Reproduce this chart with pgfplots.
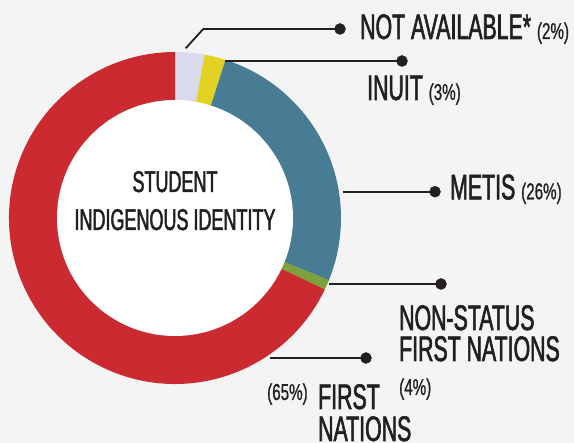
\documentclass[border=0pt]{standalone}
\usepackage{fontspec}
\setmainfont{Liberation Sans}
\newfontfamily\cond[FakeStretch=0.6, FakeBold=1.6]{Liberation Sans}
\newfontfamily\pctfont[FakeStretch=0.66, FakeBold=0.8]{Liberation Sans}
\usepackage{pgfplots}
\pgfplotsset{compat=1.18}
\definecolor{bg}{HTML}{F4F4F4}
\definecolor{cFN}{HTML}{CC2A31}
\definecolor{cNA}{HTML}{D9DBEC}
\definecolor{cIN}{HTML}{E4D223}
\definecolor{cME}{HTML}{487B94}
\definecolor{cNS}{HTML}{7DA23B}
\definecolor{txt}{HTML}{231F20}
% slice from angle #1 to #2 (degrees clockwise from top)
\newcommand\sector[3]{\fill[#3] (175,225) -- ({175+166*cos(90-#1)},{225+166*sin(90-#1)}) arc[start angle={90-#1}, end angle={90-#2}, radius=166pt] -- cycle;}
\newcommand\pct{\pctfont\fontsize{23}{23}\selectfont}
\newcommand\lab{\cond\fontsize{35.5}{35.5}\selectfont}
\begin{document}
\begin{tikzpicture}
\begin{axis}[x=1pt,y=1pt,xmin=0,xmax=574,ymin=0,ymax=443,
  hide axis, scale only axis, clip=false]
\fill[bg] (0,0) rectangle (574,443);
\coordinate (ll) at (0,0);
\coordinate (ur) at (574,443);
% shares as drawn (in degrees): 10.3, 7.4, 94.3, 3.5, 244.5
\sector{0}{10.3}{cNA}
\sector{10.3}{17.7}{cIN}
\sector{17.7}{112}{cME}
\sector{112}{115.5}{cNS}
\sector{115.5}{360}{cFN}
\fill[white] (175,225) circle[radius=118pt];
% leader lines
\addplot[txt, line width=1.8pt] coordinates {(185.7,394.7) (203.3,414) (340,414)};
\addplot[txt, line width=1.8pt] coordinates {(225,382) (402,382)};
\addplot[txt, line width=1.8pt] coordinates {(343,251.3) (435,251.3)};
\addplot[txt, line width=1.8pt] coordinates {(329,159) (441,159)};
\addplot[txt, line width=1.8pt] coordinates {(270,85) (366,85)};
\addplot[only marks, mark=*, mark size=5.5pt, txt] coordinates {(340,414) (402,382) (435,251.3) (441,159) (366,85)};
% labels
\node[anchor=base west, inner sep=0, text=txt, font=\lab] at (360,404) {NOT AVAILABLE* {\pct (2\%)}};
\node[anchor=base west, inner sep=0, text=txt, font=\lab] at (367,343) {INUIT {\pct (3\%)}};
\node[anchor=base west, inner sep=0, text=txt, font=\lab] at (450,243.7) {METIS {\pct (26\%)}};
\node[anchor=base west, inner sep=0, text=txt, font=\lab] at (399,113) {NON-STATUS};
\node[anchor=base west, inner sep=0, text=txt, font=\lab] at (399,82) {FIRST NATIONS};
\node[anchor=base west, inner sep=0, text=txt, font=\pct] at (399,48) {(4\%)};
\node[anchor=base west, inner sep=0, text=txt, font=\pct] at (267,43) {(65\%)};
\node[anchor=base west, inner sep=0, text=txt, font=\lab] at (318,34) {FIRST};
\node[anchor=base west, inner sep=0, text=txt, font=\lab] at (318,2) {NATIONS};
\node[anchor=base, inner sep=0, text=txt, font=\cond\fontsize{30}{30}\selectfont] at (175,251) {STUDENT};
\node[anchor=base, inner sep=0, text=txt, font=\cond\fontsize{30}{30}\selectfont] at (175,213) {INDIGENOUS IDENTITY};
\end{axis}
\pgfresetboundingbox
\useasboundingbox (ll) rectangle (ur);
\end{tikzpicture}
\end{document}
